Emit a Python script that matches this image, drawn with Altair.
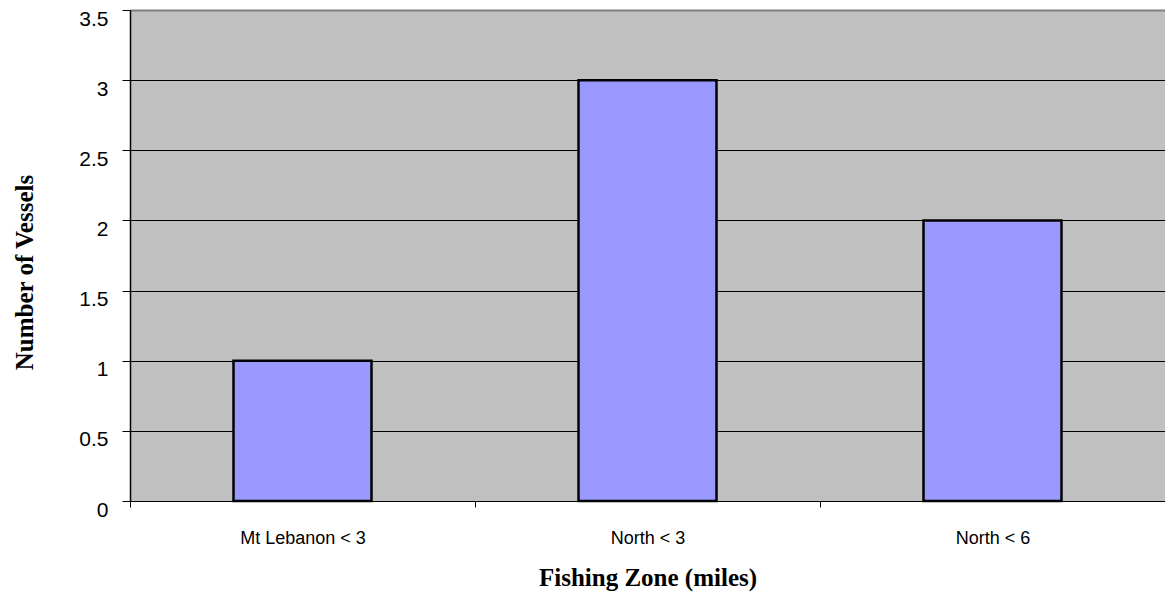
import altair as alt
import pandas as pd

zones = ["Mt Lebanon < 3", "North < 3", "North < 6"]
vessels = [1, 3, 2]
y_ticks = [0, 0.5, 1, 1.5, 2, 2.5, 3, 3.5]

df = pd.DataFrame({"zone": zones, "vessels": vessels})

chart = alt.Chart(df).mark_bar(
    fill="#9999FF", stroke="black", strokeWidth=2.5,
    width=alt.RelativeBandSize(0.4),
).encode(
    x=alt.X(
        "zone:N",
        sort=zones,
        scale=alt.Scale(paddingInner=0, paddingOuter=0),
        axis=alt.Axis(
            title="Fishing Zone (miles)",
            labelAngle=0,
            tickBand="extent",
            domainColor="black",
            tickColor="black",
            tickSize=6,
            labelPadding=22,
            labelFont="Liberation Sans",
            labelFontSize=18,
            labelColor="black",
            titleFont="Liberation Serif",
            titleFontSize=25,
            titleFontWeight="bold",
            titleColor="black",
            titleBaseline="alphabetic",
            titleY=84,
            grid=False,
        ),
    ),
    y=alt.Y(
        "vessels:Q",
        scale=alt.Scale(domain=[0, 3.5], nice=False),
        axis=alt.Axis(
            title="Number of Vessels",
            values=y_ticks,
            labelExpr="datum.value",
            labelBaseline="top",
            labelOffset=-2,
            domainColor="black",
            domainWidth=1.5,
            tickColor="black",
            tickSize=8,
            labelPadding=14,
            labelFont="Liberation Sans",
            labelFontSize=21,
            labelColor="black",
            gridColor={"condition": {"test": "datum.value >= 3.5", "value": "#808080"}, "value": "black"},
            gridWidth={"condition": {"test": "datum.value >= 3.5", "value": 2}, "value": 1},
            gridOpacity=1,
            titleFont="Liberation Serif",
            titleFontSize=25,
            titleFontWeight="bold",
            titleColor="black",
            titleAngle=270,
            titleAlign="center",
            titleBaseline="alphabetic",
            titleX=-98,
            titleY=262,
        ),
    ),
).properties(
    width=1035,
    height=491,
    autosize=alt.AutoSizeParams(type="none"),
    padding={"left": 122, "top": 2, "right": 0, "bottom": 96},
    view=alt.ViewBackground(fill="#C0C0C0", stroke="#808080", strokeWidth=1),
    background="white",
)

chart.save("out.html", embed_options={"renderer": "svg", "actions": False})
